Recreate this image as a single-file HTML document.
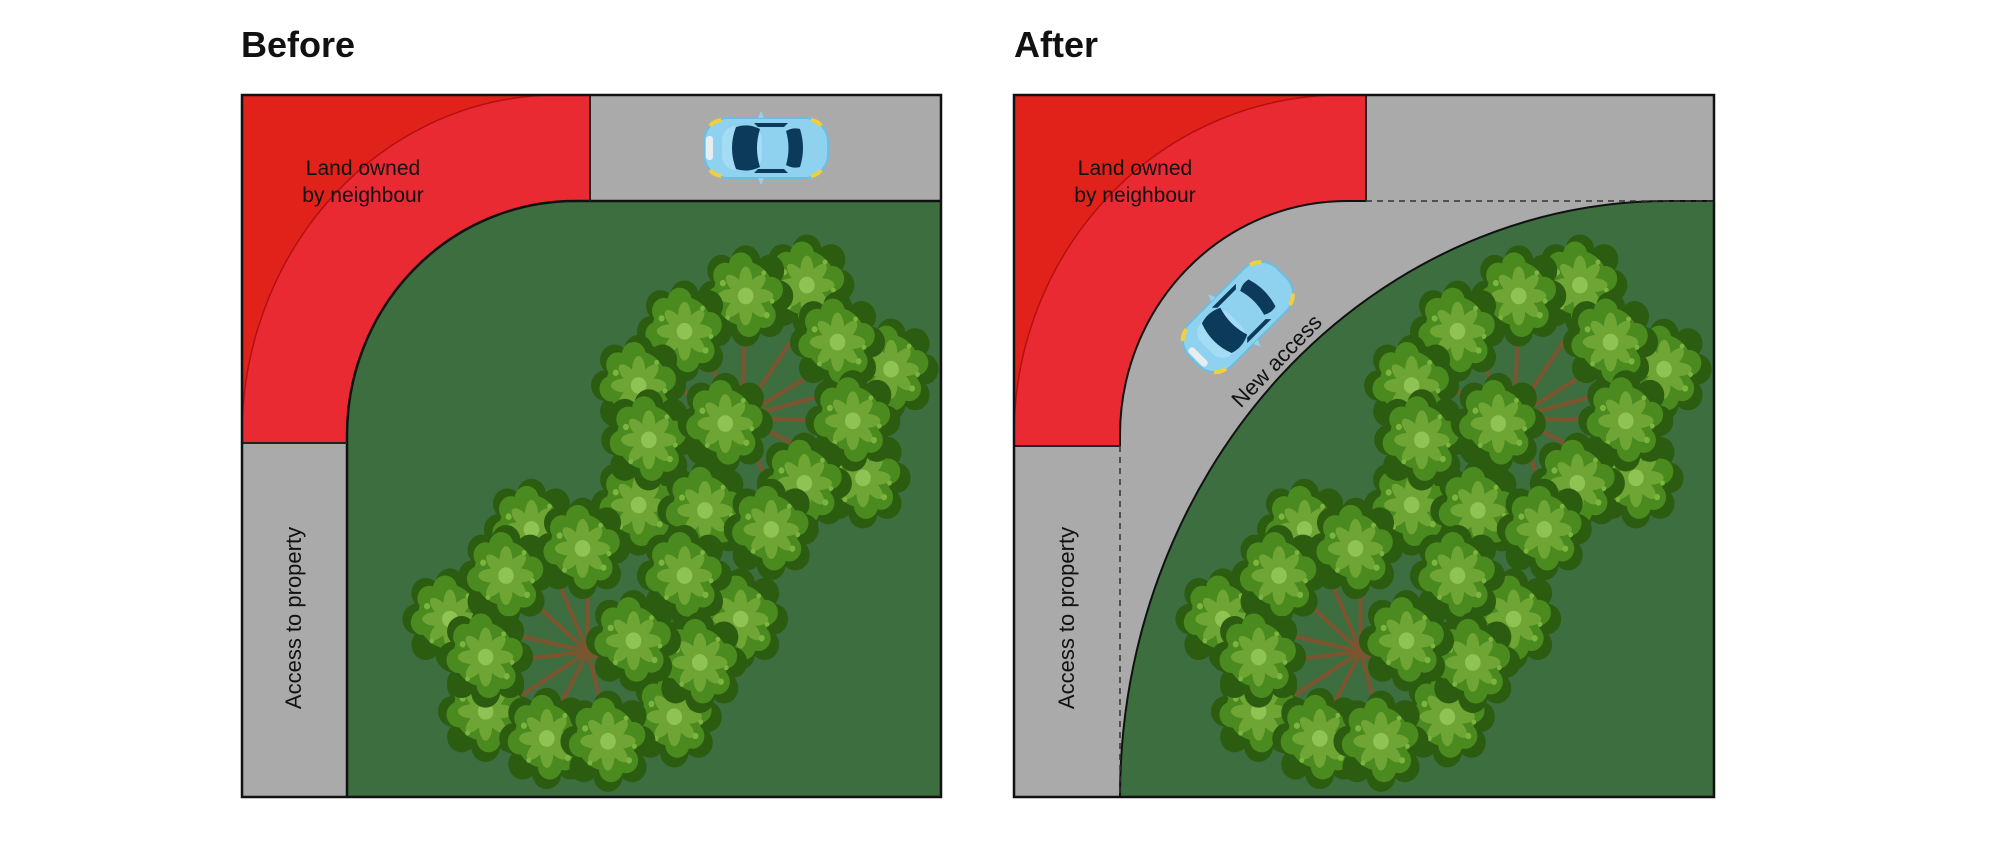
<!DOCTYPE html>
<html><head><meta charset="utf-8"><style>
html,body{margin:0;padding:0;background:#fff;}
svg{display:block;}
text{font-family:"Liberation Sans",sans-serif;fill:#111;}
</style></head><body>
<svg width="1998" height="850" viewBox="0 0 1998 850" xmlns="http://www.w3.org/2000/svg">
<defs>
  <g id="blob"><g transform="scale(1.18)">
    <g fill="#2c5c10">
      <circle cx="0" cy="0" r="62"/>
      <circle cx="55" cy="0" r="24"/><circle cx="-55" cy="0" r="24"/>
      <circle cx="0" cy="55" r="24"/><circle cx="0" cy="-55" r="24"/>
      <circle cx="40" cy="40" r="24"/><circle cx="-40" cy="40" r="24"/>
      <circle cx="40" cy="-40" r="24"/><circle cx="-40" cy="-40" r="24"/>
    </g>
    <g fill="#4a8a1f">
      <circle cx="-3" cy="-4" r="50"/>
      <circle cx="42" cy="-10" r="20"/><circle cx="-45" cy="5" r="20"/>
      <circle cx="5" cy="44" r="20"/><circle cx="-8" cy="-48" r="20"/>
      <circle cx="30" cy="30" r="20"/><circle cx="-34" cy="-32" r="20"/>
    </g>
    <g fill="#6ea535">
      <ellipse cx="0" cy="-22" rx="11" ry="24"/>
      <ellipse cx="0" cy="22" rx="11" ry="24"/>
      <ellipse cx="-22" cy="0" rx="24" ry="11"/>
      <ellipse cx="22" cy="0" rx="24" ry="11"/>
      <ellipse cx="16" cy="16" rx="10" ry="22" transform="rotate(-45 16 16)"/>
      <ellipse cx="-16" cy="-16" rx="10" ry="22" transform="rotate(-45 -16 -16)"/>
      <ellipse cx="16" cy="-16" rx="10" ry="22" transform="rotate(45 16 -16)"/>
      <ellipse cx="-16" cy="16" rx="10" ry="22" transform="rotate(45 -16 16)"/>
    </g>
    <circle cx="0" cy="0" r="13" fill="#8fc353"/>
    <g fill="#7cb440">
      <circle cx="-38" cy="-20" r="5"/><circle cx="35" cy="30" r="5"/>
      <circle cx="30" cy="-36" r="4"/><circle cx="-30" cy="34" r="4"/>
      <circle cx="44" cy="8" r="4"/>
    </g>
  </g></g>
  <g id="trees" transform="translate(200,0) scale(0.51,0.543)">
    <g stroke="#7a5530" stroke-width="8" stroke-linecap="round" fill="none">
      <path d="M1060,770 L1070,600 M1060,770 Q1120,680 1195,580 M1060,770 L1250,660 M1060,770 L1330,700 M1060,770 L1250,775 M1060,770 L1260,860 M1060,770 L1130,930 M1060,770 L1000,900 M1060,770 L900,820 M1060,770 L900,700 M1060,770 L980,640"/>
      <path d="M760,1200 L680,1020 M760,1200 L760,1050 M760,1200 L620,1080 M760,1200 L530,1150 M760,1200 L580,1220 M760,1200 L600,1300 M760,1200 L690,1330 M760,1200 L800,1340 M760,1200 L900,1300 M760,1200 L950,1220 M760,1200 L1020,1140 M760,1200 L920,1080"/>
    </g>
    <use href="#blob" x="1190" y="525"/>
    <use href="#blob" x="1070" y="545"/>
    <use href="#blob" x="1355" y="680"/>
    <use href="#blob" x="1250" y="630"/>
    <use href="#blob" x="950" y="610"/>
    <use href="#blob" x="860" y="710"/>
    <use href="#blob" x="1300" y="880"/>
    <use href="#blob" x="1280" y="775"/>
    <use href="#blob" x="860" y="930"/>
    <use href="#blob" x="880" y="810"/>
    <use href="#blob" x="1185" y="890"/>
    <use href="#blob" x="990" y="940"/>
    <use href="#blob" x="1120" y="975"/>
    <use href="#blob" x="1030" y="780"/>
    <use href="#blob" x="650" y="975"/>
    <use href="#blob" x="1060" y="1140"/>
    <use href="#blob" x="490" y="1140"/>
    <use href="#blob" x="600" y="1060"/>
    <use href="#blob" x="750" y="1010"/>
    <use href="#blob" x="950" y="1060"/>
    <use href="#blob" x="560" y="1310"/>
    <use href="#blob" x="560" y="1210"/>
    <use href="#blob" x="930" y="1320"/>
    <use href="#blob" x="980" y="1220"/>
    <use href="#blob" x="680" y="1360"/>
    <use href="#blob" x="800" y="1365"/>
    <use href="#blob" x="850" y="1180"/>
  </g>
  <g id="car">
    <rect x="-62" y="-30" width="124" height="60" rx="24" fill="#8fd2ef" stroke="#6cbde2" stroke-width="2"/>
    <rect x="-44" y="-22" width="40" height="44" rx="14" fill="#a3dcf4"/>
    <rect x="-60" y="-12" width="7" height="24" rx="3" fill="#e6eef2"/>
    <path d="M-56,-22 Q-52,-27 -45,-28" stroke="#f2d03c" stroke-width="4" fill="none"/>
    <path d="M-56,22 Q-52,27 -45,28" stroke="#f2d03c" stroke-width="4" fill="none"/>
    <path d="M55,-22 Q52,-27 45,-28" stroke="#f2d03c" stroke-width="4" fill="none"/>
    <path d="M55,22 Q52,27 45,28" stroke="#f2d03c" stroke-width="4" fill="none"/>
    <path d="M-30,-21 Q-18,-25 -6,-19 Q-12,0 -6,19 Q-18,25 -30,21 Q-38,0 -30,-21 Z" fill="#0c3a5b"/>
    <path d="M34,-19 Q40,0 34,19 Q27,21 20,17 Q25,0 20,-17 Q27,-21 34,-19 Z" fill="#0c3a5b"/>
    <path d="M-12,-25 L22,-25 L18,-21 L-8,-21 Z" fill="#0c3a5b"/>
    <path d="M-12,25 L22,25 L18,21 L-8,21 Z" fill="#0c3a5b"/>
    <path d="M-8,-30 L-5,-37 L-2,-30 Z" fill="#8fd2ef"/>
    <path d="M-8,30 L-5,37 L-2,30 Z" fill="#8fd2ef"/>
  </g>
</defs>

<!-- BEFORE -->
<text x="241" y="57" font-size="36" font-weight="bold">Before</text>
<rect x="242" y="95" width="699" height="702" fill="#3d6e40"/>
<rect x="242" y="95" width="348" height="348" fill="#ea2a32"/>
<path d="M242,435 A315,340 0 0 1 557,95 L242,95 Z" fill="#e1221a"/>
<path d="M242,435 A315,340 0 0 1 557,95" fill="none" stroke="#b50f0f" stroke-width="1.5"/>
<rect x="590" y="95" width="351" height="106" fill="#aaaaaa"/>
<rect x="242" y="443" width="105" height="354" fill="#aaaaaa"/>
<path d="M347,797 L347,435 A228,234 0 0 1 575,201 L941,201 L941,797 Z" fill="#3d6e40"/>
<use href="#trees"/>
<path d="M347,797 L347,435 A228,234 0 0 1 575,201 L941,201" fill="none" stroke="#111" stroke-width="2.5"/>
<line x1="590" y1="95" x2="590" y2="201" stroke="#222" stroke-width="2"/>
<line x1="242" y1="443" x2="347" y2="443" stroke="#222" stroke-width="2"/>
<rect x="242" y="95" width="699" height="702" fill="none" stroke="#111" stroke-width="2.5"/>
<text x="363" y="175" font-size="21" text-anchor="middle">Land owned</text>
<text x="363" y="202" font-size="21" text-anchor="middle">by neighbour</text>
<text transform="translate(301,618) rotate(-90)" font-size="22" text-anchor="middle">Access to property</text>
<use href="#car" transform="translate(766,148)"/>

<!-- AFTER -->
<text x="1014" y="57" font-size="36" font-weight="bold">After</text>
<rect x="1014" y="95" width="700" height="702" fill="#aaaaaa"/>
<path d="M1014,95 L1366,95 L1366,201 L1347,201 A227,234 0 0 0 1120,435 L1120,446 L1014,446 Z" fill="#ea2a32"/>
<path d="M1014,435 A328,340 0 0 1 1342,95 L1014,95 Z" fill="#e1221a"/>
<path d="M1014,435 A328,340 0 0 1 1342,95" fill="none" stroke="#b50f0f" stroke-width="1.5"/>
<path d="M1120,797 A549,596 0 0 1 1669,201 L1714,201 L1714,797 Z" fill="#3d6e40"/>
<use href="#trees" transform="translate(773,0)"/>
<path d="M1120,797 A549,596 0 0 1 1669,201 L1714,201" fill="none" stroke="#111" stroke-width="2"/>
<path d="M1366,201 L1347,201 A227,234 0 0 0 1120,435 L1120,446" fill="none" stroke="#111" stroke-width="2"/>
<line x1="1366" y1="95" x2="1366" y2="201" stroke="#222" stroke-width="2"/>
<line x1="1014" y1="446" x2="1120" y2="446" stroke="#222" stroke-width="2"/>
<line x1="1366" y1="201" x2="1714" y2="201" stroke="#333" stroke-width="1.5" stroke-dasharray="6,5"/>
<line x1="1120" y1="446" x2="1120" y2="797" stroke="#333" stroke-width="1.5" stroke-dasharray="6,5"/>
<rect x="1014" y="95" width="700" height="702" fill="none" stroke="#111" stroke-width="2.5"/>
<text x="1135" y="175" font-size="21" text-anchor="middle">Land owned</text>
<text x="1135" y="202" font-size="21" text-anchor="middle">by neighbour</text>
<text transform="translate(1074,618) rotate(-90)" font-size="22" text-anchor="middle">Access to property</text>
<use href="#car" transform="translate(1238,317) rotate(-45)"/>
<text transform="translate(1282,366) rotate(-46)" font-size="22" text-anchor="middle">New access</text>
</svg>
</body></html>
